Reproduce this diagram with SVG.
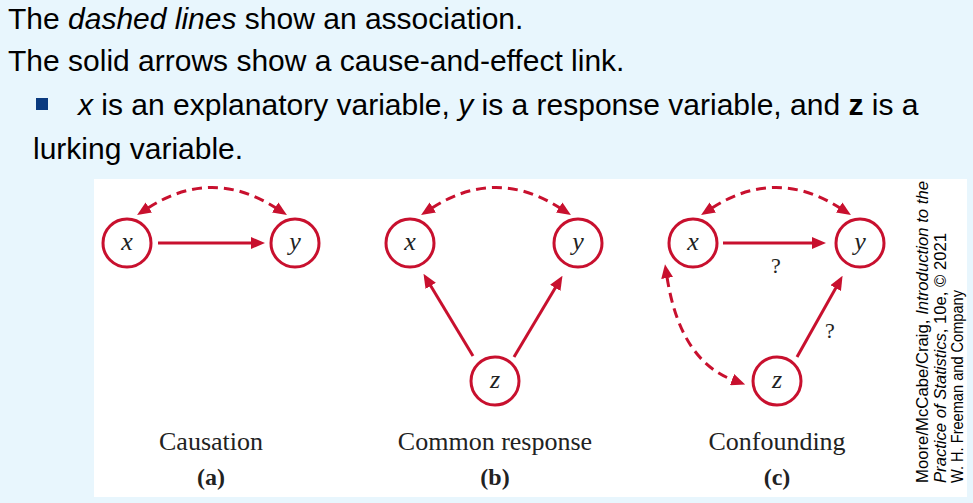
<svg xmlns="http://www.w3.org/2000/svg" width="973" height="503" viewBox="0 0 973 503">
<defs>
<style>
.top{font-family:"Liberation Sans",Arial,sans-serif;font-size:30px;fill:#000}
.node circle{fill:#fff;stroke:#c8102e;stroke-width:3}
.lbl{font-family:"Liberation Serif","Times New Roman",serif;font-style:italic;font-size:26px;fill:#222;text-anchor:middle}
.cap{font-family:"Liberation Serif","Times New Roman",serif;font-size:26px;fill:#222;text-anchor:middle}
.sub{font-family:"Liberation Serif","Times New Roman",serif;font-size:24px;font-weight:bold;fill:#222;text-anchor:middle}
.q{font-family:"Liberation Serif","Times New Roman",serif;font-size:22px;fill:#222;text-anchor:middle}
.solid{fill:none;stroke:#c8102e;stroke-width:3;marker-end:url(#ah)}
.dash{fill:none;stroke:#c8102e;stroke-width:3;stroke-dasharray:10 6;marker-start:url(#ah);marker-end:url(#ah)}
.attr{font-family:"Liberation Sans",Arial,sans-serif;font-size:17px;fill:#000}
</style>
<marker id="ah" viewBox="0 0 14 12" refX="1" refY="6" markerWidth="14" markerHeight="12" markerUnits="userSpaceOnUse" orient="auto-start-reverse">
<path d="M0,0 L14,6 L0,12 Z" fill="#c8102e"/>
</marker>
</defs>
<rect x="0" y="0" width="973" height="503" fill="#e8f6fd"/>
<rect x="94" y="179" width="873" height="318" fill="#fff"/>
<g id="header">
<text class="top" x="8" y="29">The <tspan font-style="italic">dashed lines</tspan> show an association.</text>
<text class="top" x="8" y="71">The solid arrows show a cause-and-effect link.</text>
<rect x="36" y="98" width="12" height="12" fill="#0a3a7f"/>
<text class="top" x="78" y="115"><tspan font-style="italic">x</tspan> is an explanatory variable, <tspan font-style="italic">y</tspan> is a response variable, and <tspan font-weight="bold">z</tspan> is a</text>
<text class="top" x="33" y="159">lurking variable.</text>
</g>
<g id="connectors">
<path class="dash" d="M148,208 Q212,167 276,208"/>
<path class="solid" d="M158,243 L252,243"/>
<path class="dash" d="M432,208 Q496,167 560,208"/>
<path class="solid" d="M473,356 L430.2,285"/>
<path class="solid" d="M514,357 L555.8,287"/>
<path class="dash" d="M712,208 Q776,167 840,208"/>
<path class="solid" d="M723,243 L813,243"/>
<path class="solid" d="M797,357 L836.2,287.2"/>
<path class="dash" d="M667,277 Q680,360 733,380"/>
<text class="q" x="776" y="273">?</text>
<text class="q" x="830" y="338">?</text>
</g>
<g id="a-x" class="node"><circle cx="127" cy="243" r="24"/><text class="lbl" x="127" y="250">x</text></g>
<g id="a-y" class="node"><circle cx="295" cy="243" r="24"/><text class="lbl" x="295" y="250">y</text></g>
<g id="b-x" class="node"><circle cx="410" cy="243" r="24"/><text class="lbl" x="410" y="250">x</text></g>
<g id="b-y" class="node"><circle cx="578" cy="243" r="24"/><text class="lbl" x="578" y="250">y</text></g>
<g id="b-z" class="node"><circle cx="495" cy="381" r="24"/><text class="lbl" x="495" y="388">z</text></g>
<g id="c-x" class="node"><circle cx="693" cy="243" r="24"/><text class="lbl" x="693" y="250">x</text></g>
<g id="c-y" class="node"><circle cx="860" cy="243" r="24"/><text class="lbl" x="860" y="250">y</text></g>
<g id="c-z" class="node"><circle cx="777" cy="381" r="24"/><text class="lbl" x="777" y="388">z</text></g>
<g id="captions">
<text class="cap" x="211" y="450">Causation</text>
<text class="sub" x="211" y="485">(a)</text>
<text class="cap" x="495" y="450">Common response</text>
<text class="sub" x="495" y="485">(b)</text>
<text class="cap" x="777" y="450">Confounding</text>
<text class="sub" x="777" y="485">(c)</text>
</g>
<g id="attribution">
<text class="attr" transform="translate(928,483) rotate(-90)" textLength="302" lengthAdjust="spacingAndGlyphs">Moore/McCabe/Craig, <tspan font-style="italic">Introduction to the</tspan></text>
<text class="attr" transform="translate(946,483) rotate(-90)" textLength="250" lengthAdjust="spacingAndGlyphs"><tspan font-style="italic">Practice of Statistics</tspan>, 10e, © 2021</text>
<text class="attr" transform="translate(963,483) rotate(-90)" textLength="193" lengthAdjust="spacingAndGlyphs">W. H. Freeman and Company</text>
</g>
</svg>
